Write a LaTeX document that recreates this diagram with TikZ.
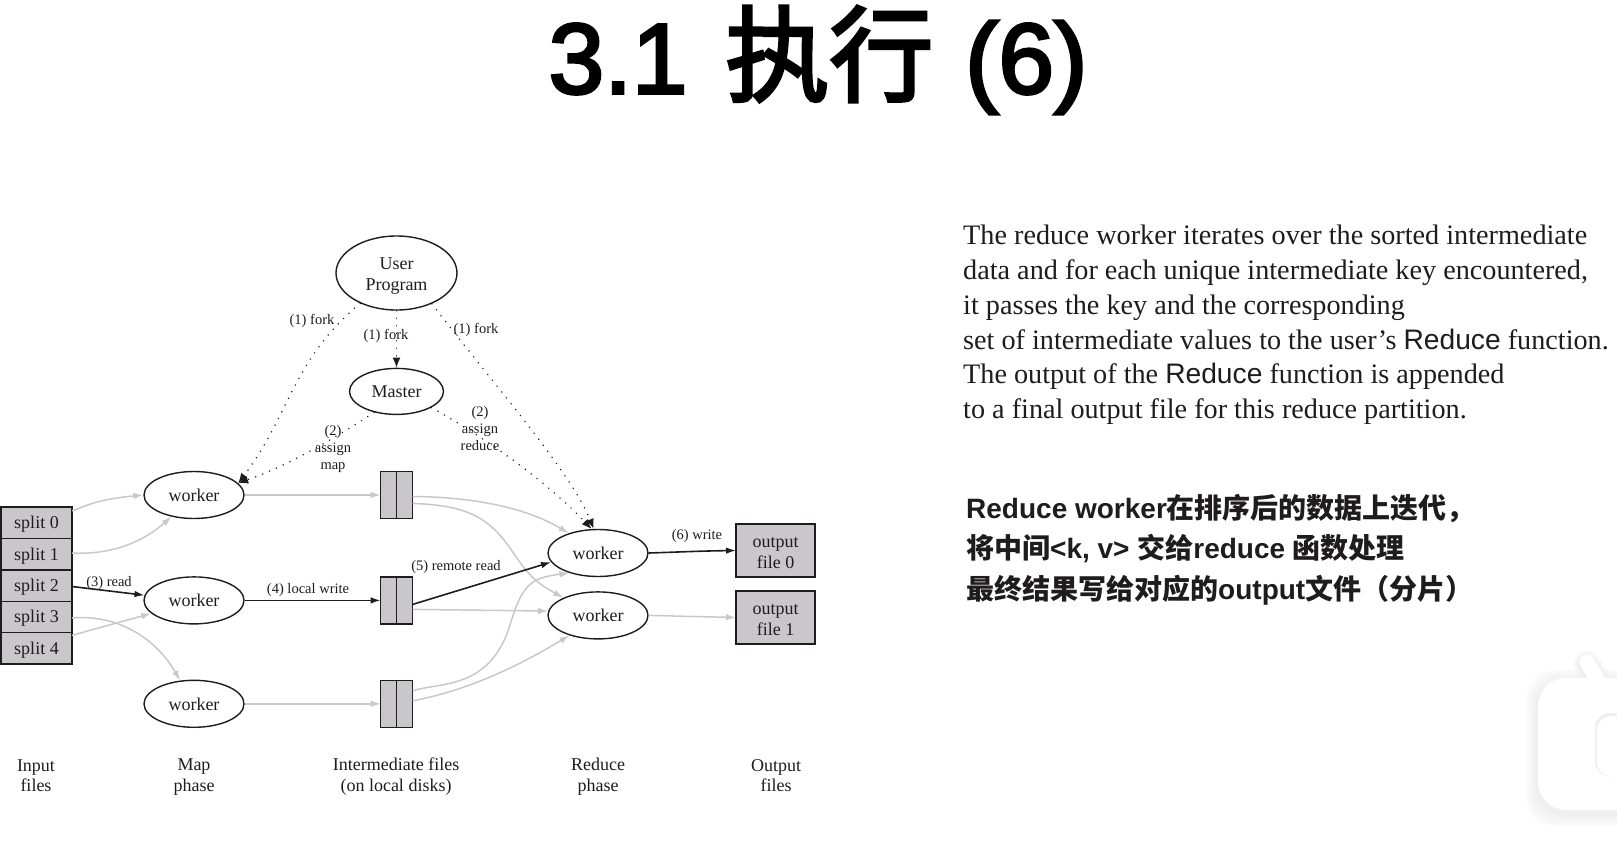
\documentclass[tikz,border=0pt]{standalone}
\usepackage{fontspec}
\setmainfont{Liberation Serif}
\newfontfamily\headfont{Liberation Sans}
\newfontfamily\titlefont[FakeBold=3]{Liberation Sans}
\newfontfamily\titlecjk[FakeBold=3]{Noto Sans CJK SC}
\newfontfamily\cjk{Noto Sans CJK SC}
\usetikzlibrary{shapes.geometric, arrows.meta, positioning}
\definecolor{boxgray}{HTML}{C9C7CB}
\definecolor{edgegray}{HTML}{C8C8C8}
\definecolor{inkdark}{HTML}{1E1C1C}
\newcommand{\zh}[1]{{\cjk\bfseries #1}}
\newcommand{\nodestrut}{\rule[-3pt]{0pt}{19pt}}
\newcommand{\firstrule}{\rule{0pt}{18pt}}

\begin{document}
\begin{tikzpicture}[
  x=1pt, y=-1pt,
  node distance=57pt and 136pt,
  every node/.style={text=inkdark},
  struts/.style={execute at begin node=\nodestrut, execute at end node=\nodestrut},
  procnode/.style={ellipse, draw=inkdark, line width=1.4pt, inner sep=0pt, align=center,
              minimum width=100pt, minimum height=47pt, struts,
              font=\fontsize{18}{20.5}\selectfont},
  splitbox/.style={rectangle, draw=inkdark, line width=1.4pt, fill=boxgray, outer sep=0pt,
              minimum width=71pt, minimum height=31.4pt, inner sep=0pt, struts,
              font=\fontsize{18}{20.5}\selectfont},
  diskbox/.style={rectangle, draw=inkdark, line width=1.4pt, fill=boxgray, outer sep=0pt,
              minimum width=32pt, minimum height=47pt,
              path picture={\draw[inkdark, line width=1.4pt] (path picture bounding box.north) -- (path picture bounding box.south);}},
  outbox/.style={splitbox, minimum width=79pt, minimum height=53pt, align=center},
  steplabel/.style={font=\fontsize{14.5}{17}\selectfont, align=center, inner sep=0pt},
  caption/.style={font=\fontsize{18}{20.5}\selectfont, align=center, inner sep=0pt, struts},
  grayarrow/.style={-{Latex[length=10pt,width=6.5pt]}, edgegray, line width=1.5pt},
  blackarrow/.style={-{Latex[length=10pt,width=6.5pt]}, inkdark, line width=1.6pt},
  dotarrow/.style={-{Latex[length=10pt,width=8pt]}, inkdark, line width=1.6pt, line cap=round,
              dash pattern=on 0.1pt off 7.4pt}
]
\useasboundingbox (0,0) rectangle (1617,857);

\node[font=\fontsize{100}{110}\selectfont\titlefont, text=black, inner sep=0pt] (title) at (818,60) {3.1\hspace{10pt} {\fontsize{104}{110}\selectfont\titlecjk 执行}\hspace{4pt} (6)};

\node[procnode, minimum width=121pt, minimum height=74pt] (userprog) at (396.5,273) {\firstrule User\\Program};
\node[procnode, minimum width=94pt, minimum height=46pt, below=57pt of userprog] (master) {Master};
\node[procnode] (worker1) at (194,495) {worker};
\node[procnode, below=of worker1] (worker2) {worker};
\node[procnode, below=55pt of worker2] (worker3) {worker};

\node[splitbox] (split0) at (36.5,522.7) {split 0};
\node[splitbox, below=0pt of split0] (split1) {split 1};
\node[splitbox, below=0pt of split1] (split2) {split 2};
\node[splitbox, below=0pt of split2] (split3) {split 3};
\node[splitbox, below=0pt of split3] (split4) {split 4};

\node[diskbox, right=of worker1] (disk1) {};
\node[diskbox, right=of worker2] (disk2) {};
\node[diskbox, right=of worker3] (disk3) {};

\node[procnode] (reduce1) at (598,553) {worker};
\node[procnode, below=14pt of reduce1] (reduce2) {worker};
\node[outbox] (output0) at (775.5,550.5) {\firstrule output\\file 0};
\node[outbox] (output1) at (775.5,617.5) {\firstrule output\\file 1};

\draw[grayarrow] ([yshift=12pt]split0.east) .. controls (85,507) and (92,500) .. (worker1.west);
\draw[grayarrow] ([yshift=1pt]split1.east) .. controls (115,555) and (145,540) .. (worker1.-136);
\draw[blackarrow] ([yshift=-1pt]split2.east) -- (worker2.174);
\draw[grayarrow] ([yshift=-1pt]split3.east) .. controls (125,614) and (160,645) .. (worker3.121);
\draw[grayarrow] ([yshift=13pt]split4.east) -- (worker2.-163);
\draw[grayarrow] (worker1.east) -- (disk1.west);
\draw[blackarrow] (worker2.east) -- (disk2.west);
\draw[grayarrow] (worker3.east) -- (disk3.west);
\draw[grayarrow] ([yshift=-1.5pt]disk1.east) .. controls (480,497) and (530,510) .. (reduce1.146);
\draw[grayarrow] ([yshift=-8.5pt]disk1.east) .. controls (470,505) and (490,520) .. (510,548) .. controls (528,575) and (535,582) .. (reduce2.153);
\draw[blackarrow] ([yshift=-4pt]disk2.east) -- (reduce1.-169);
\draw[grayarrow] ([yshift=-9pt]disk2.east) -- (reduce2.175);
\draw[grayarrow] ([yshift=13pt]disk3.east) .. controls (440,682) and (490,690) .. (510,625) .. controls (522,585) and (530,578) .. (reduce1.-145);
\draw[grayarrow] ([yshift=3pt]disk3.east) .. controls (470,690) and (520,665) .. (reduce2.-145);
\draw[blackarrow] (reduce1.east) .. controls (680,552) and (700,551) .. (output0.west);
\draw[grayarrow] (reduce2.east) -- (output1.west);

\draw[dotarrow] (userprog.-140) .. controls (292,360) and (290,415) .. (worker1.15);
\draw[dotarrow] (userprog.south) -- (master.north);
\draw[dotarrow] (userprog.-41.6) .. controls (490,380) and (570,470) .. (reduce1.100);
\draw[dotarrow] (master.-137.5) .. controls (340,435) and (290,465) .. (worker1.15);
\draw[dotarrow] (master.-25) .. controls (490,440) and (550,485) .. (reduce1.105);

\node[steplabel] (forkleft) at (312,321) {(1) fork};
\node[steplabel] (forkmid) at (386,336) {(1) fork};
\node[steplabel] (forkright) at (476,330) {(1) fork};
\node[steplabel] (assignmap) at (333,449.5) {(2)\\assign\\map};
\node[steplabel] (assignreduce) at (480,429) {(2)\\assign\\reduce};
\node[steplabel] (readlabel) at (109,583) {(3) read};
\node[steplabel] (localwrite) at (308,590) {(4) local write};
\node[steplabel] (remoteread) at (456,567) {(5) remote read};
\node[steplabel] (writelabel) at (697,536) {(6) write};

\node[caption] (capinput) at (36,774) {\firstrule Input\\files};
\node[caption] (capmap) at (194,774) {\firstrule Map\\phase};
\node[caption] (capdisk) at (396,774) {\firstrule Intermediate files\\(on local disks)};
\node[caption] (capreduce) at (598,774) {\firstrule Reduce\\phase};
\node[caption] (capoutput) at (776,774) {\firstrule Output\\files};

\node[anchor=north west, align=left, inner sep=0pt, font=\fontsize{28.2}{34.8}\selectfont] (english) at (963,225) {%
  The reduce worker iterates over the sorted intermediate\\
  data and for each unique intermediate key encountered,\\
  it passes the key and the corresponding\\
  set of intermediate values to the user's {\headfont Reduce} function.\\
  The output of the {\headfont Reduce} function is appended\\
  to a final output file for this reduce partition.};

\node[anchor=north west, align=left, inner sep=0pt, font=\fontsize{28}{40.5}\selectfont\headfont\bfseries] (chinese) at (966,494) {%
  Reduce worker\zh{在排序后的数据上迭代，}\\
  \zh{将中间}<k, v> \zh{交给}reduce \zh{函数处理}\\
  \zh{最终结果写给对应的}output\zh{文件（分片）}};

\foreach \spread/\shade in {12/4,9/5,6/6,3/7} {
  \fill[black!\shade, opacity=0.5, rounded corners=30pt] (1538-\spread,678-\spread+4) rectangle (1660,810+\spread+4);
  \draw[black!\shade, opacity=0.5, line width=15pt+\spread pt, line cap=round] (1587,664) -- (1605,692);
}
\draw[white, line width=15pt, line cap=round] (1587,662) -- (1605,692);
\fill[white, rounded corners=28pt] (1538,678) rectangle (1660,810);
\fill[black!6, rounded corners=14pt] (1595,713) rectangle (1660,776);
\fill[white, rounded corners=14pt] (1597,716) rectangle (1660,776);
\end{tikzpicture}
\end{document}
